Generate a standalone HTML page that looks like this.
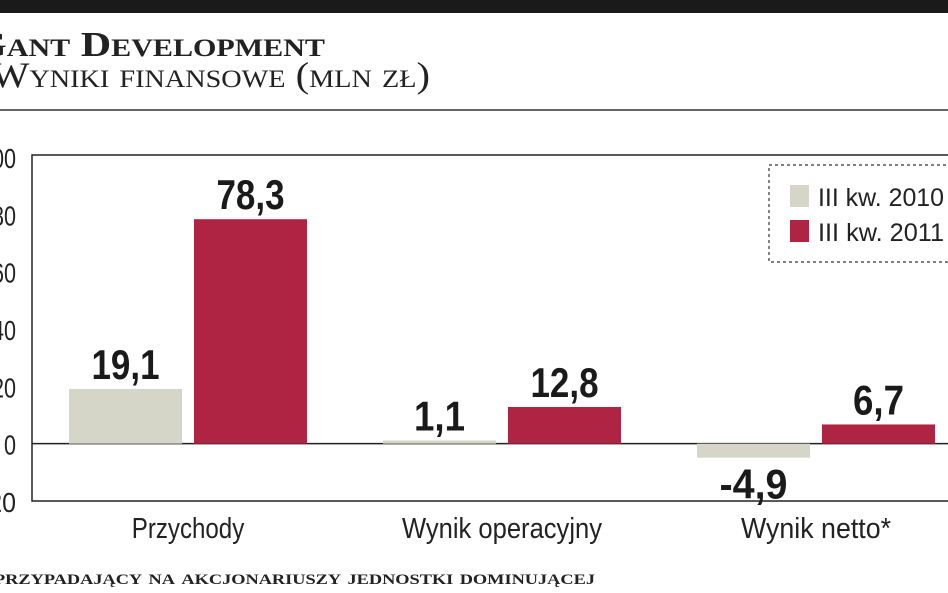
<!DOCTYPE html>
<html><head><meta charset="utf-8">
<style>
html,body{margin:0;padding:0;background:#fff;}
svg{display:block;}
</style></head>
<body>
<svg id="chart" width="948" height="593" viewBox="0 0 948 593" xmlns="http://www.w3.org/2000/svg">
  <rect x="0" y="0" width="948" height="13" fill="#1a1a1a"/>
  <text x="-26" y="56" font-family="Liberation Serif, serif" font-weight="bold" font-size="35" fill="#222" textLength="351" lengthAdjust="spacingAndGlyphs" style="font-variant:small-caps">Gant Development</text>
  <text x="-9" y="87" font-family="Liberation Serif, serif" font-size="36" fill="#222" textLength="439" lengthAdjust="spacingAndGlyphs" style="font-variant:small-caps">Wyniki finansowe (mln zł)</text>
  <line x1="0" y1="110" x2="948" y2="110" stroke="#333" stroke-width="1.5"/>
  <rect x="32" y="155" width="930" height="346" fill="none" stroke="#222" stroke-width="1.5"/>
  <g id="ticks"></g>
  <g id="bars"></g>
  <g id="labels"></g>
  <g>
    <rect x="769" y="165" width="200" height="97" fill="#fff" stroke="#333" stroke-width="1.2" stroke-dasharray="3,3"/>
    <rect x="790" y="185" width="19" height="22" fill="#d5d5c8"/>
    <text x="818" y="206" font-family="Liberation Sans, sans-serif" font-size="25" fill="#222" textLength="126" lengthAdjust="spacingAndGlyphs">III kw. 2010</text>
    <rect x="790" y="220" width="19" height="22" fill="#b02443"/>
    <text x="818" y="241" font-family="Liberation Sans, sans-serif" font-size="25" fill="#222" textLength="126" lengthAdjust="spacingAndGlyphs">III kw. 2011</text>
  </g>
  <text x="-6" y="584" font-family="Liberation Serif, serif" font-weight="bold" font-size="21" fill="#222" textLength="601" lengthAdjust="spacingAndGlyphs" style="font-variant:small-caps">przypadający na akcjonariuszy jednostki dominującej</text>
</svg>
<script>
const categories = ["Przychody", "Wynik operacyjny", "Wynik netto*"];
const values2010 = [19.1, 1.1, -4.9];
const values2011 = [78.3, 12.8, 6.7];
const tickValues = [100, 80, 60, 40, 20, 0, -20];
const tickLabels = ["100", "80", "60", "40", "20", "0", "-20"];

const NS = "http://www.w3.org/2000/svg";
const yMin = -20, yMax = 100, yTop = 157, yBot = 501;
function y(v){ return yBot - (v - yMin) / (yMax - yMin) * (yBot - yTop); }
const firstCenter = 188, step = 314, barW = 113, gap = 12;
function cx(i){ return firstCenter + i * step; }
function fmt(v){ return String(v).replace(".", ","); }
function mk(tag, attrs){ const e = document.createElementNS(NS, tag); for (const k in attrs) e.setAttribute(k, attrs[k]); return e; }

const ticksG = document.getElementById("ticks");
tickValues.forEach((t, i) => {
  const s = tickLabels[i];
  const txt = mk("text", {x: 16, y: y(t) + 11, "text-anchor": "end", "font-family": "Liberation Sans, sans-serif", "font-size": "28", fill: "#222", textLength: s.length * 12, lengthAdjust: "spacingAndGlyphs"});
  
  
  txt.textContent = s;
  ticksG.appendChild(txt);
});
const zl = mk("line", {x1: 32, x2: 948, y1: y(0), y2: y(0), stroke: "#222", "stroke-width": 1.5});


ticksG.appendChild(zl);

const barsG = document.getElementById("bars");
const labelsG = document.getElementById("labels");
function drawBar(i, v, x0, color, series){
  const y0 = y(0), yv = y(v);
  const r = mk("rect", {x: x0, y: Math.min(y0, yv), width: barW, height: Math.max(1.5, Math.abs(y0 - yv)), fill: color});
  
  
  barsG.appendChild(r);
  const s = fmt(v);
  const ly = v >= 0 ? yv - 10 : yv + 41;
  const t = mk("text", {x: x0 + barW / 2, y: ly, "text-anchor": "middle", "font-family": "Liberation Sans, sans-serif", "font-weight": "bold", "font-size": "42", fill: "#1a1a1a", textLength: s.length * 17, lengthAdjust: "spacingAndGlyphs"});
  
  
  t.textContent = s;
  labelsG.appendChild(t);
}
categories.forEach((c, i) => {
  drawBar(i, values2010[i], cx(i) - gap / 2 - barW, "#d5d5c8", "2010");
  drawBar(i, values2011[i], cx(i) + gap / 2, "#b02443", "2011");
  const t = mk("text", {x: cx(i), y: 538, "text-anchor": "middle", "font-family": "Liberation Sans, sans-serif", "font-size": "29", fill: "#222", textLength: c.length * 12.5, lengthAdjust: "spacingAndGlyphs"});
  
  
  t.textContent = c;
  labelsG.appendChild(t);
});
</script>
</body></html>
